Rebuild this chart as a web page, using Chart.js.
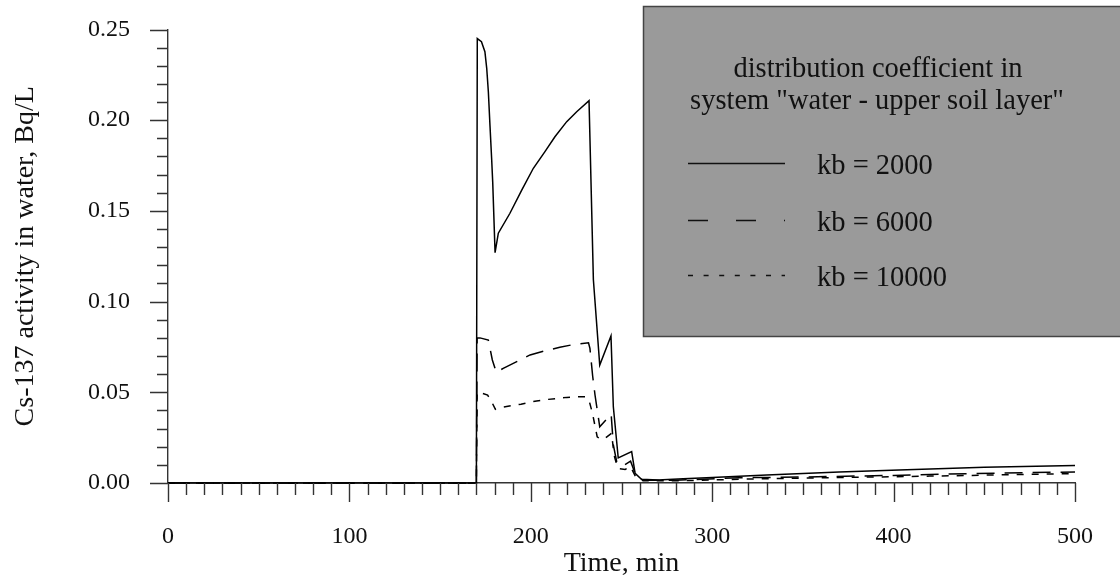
<!DOCTYPE html>
<html>
<head>
<meta charset="utf-8">
<script src="https://cdn.jsdelivr.net/npm/chart.js@4.4.0/dist/chart.umd.min.js"></script>
<style>
  html, body { margin:0; background:#fff; }
  #wrap { position:relative; width:1120px; height:586px; }
</style>
</head>
<body>
<div id="wrap"><canvas id="chart"></canvas></div>
<script>
const SERIF = "'Liberation Serif','Times New Roman',serif";

// ── Data ──────────────────────────────────────────────────────
const legendTitle = ['distribution coefficient in', 'system "water - upper soil layer"'];
const seriesLabels = ['kb = 2000', 'kb = 6000', 'kb = 10000'];

const tKb2000 = [0, 170, 170.5, 172.8, 174.7, 175.7, 176.6, 177.5, 178.4, 179, 180.3, 182.1, 188.5, 195, 201.4,
  207.8, 213.3, 219.8, 225.3, 232.1, 234.5, 238, 244.2, 245.5, 248.2, 255.6, 257.5, 261, 270, 284, 300, 330, 370, 403, 450, 500];
const vKb2000 = [0, 0, 0.245, 0.2433, 0.2378, 0.2286, 0.2157, 0.197, 0.179, 0.166, 0.127, 0.1377, 0.1487, 0.1615, 0.1735,
  0.1827, 0.1909, 0.1992, 0.2047, 0.2108, 0.112, 0.065, 0.081, 0.042, 0.0138, 0.0173, 0.0053, 0.002, 0.0017, 0.0024, 0.003, 0.0044, 0.0061, 0.0072, 0.0087, 0.0097];

const tKb6000 = [0, 170, 170.4, 172, 176.6, 178.8, 181, 184.8, 194, 199.6, 207.8, 216, 224.4, 231.8, 232.6, 234.1, 235.4,
  238, 244.3, 245.5, 247.5, 251, 255, 258, 262, 280, 315, 350, 400, 425, 460, 500];
const vKb6000 = [0, 0, 0.08, 0.08, 0.0788, 0.0678, 0.061, 0.0632, 0.0678, 0.0706, 0.0729, 0.0748, 0.0765, 0.0773, 0.0742, 0.059, 0.0485,
  0.031, 0.0379, 0.021, 0.011, 0.0095, 0.012, 0.004, 0.0015, 0.0015, 0.0029, 0.0033, 0.0042, 0.0048, 0.0055, 0.0061];

const tKb10000 = [0, 170, 170.4, 173, 176.2, 178.4, 180.5, 184.2, 190.4, 194.6, 199.6, 203.2, 209.6, 219.8, 227, 230, 232, 234,
  236.6, 238.5, 240.9, 244.5, 246, 248, 252, 255, 258, 262, 280, 320, 370, 420, 460, 500];
const vKb10000 = [0, 0, 0.05, 0.0495, 0.0485, 0.0448, 0.0406, 0.0417, 0.0428, 0.0434, 0.0446, 0.0452, 0.0461, 0.0472, 0.0476, 0.0476, 0.046, 0.0384,
  0.0255, 0.024, 0.0246, 0.0274, 0.015, 0.008, 0.0075, 0.009, 0.003, 0.0012, 0.0012, 0.0022, 0.003, 0.0038, 0.0045, 0.0052];

const xMin = 0, xMax = 500, xMajor = 100, xMinor = 10;
const yMin = 0, yMax = 0.25, yMajor = 0.05, yMinor = 0.01;

// ── Styles ────────────────────────────────────────────────────
const DASH = { solid: [], long: [18, 10], short: [7, 8] };
const LEGEND_DASH = { solid: [], long: [20, 28], short: [5, 10.6] };
const dashKeys = ['solid', 'long', 'short'];

const pts = (ts, vs) => ts.map((t, i) => ({ x: t, y: vs[i] }));

// ── Plugins ───────────────────────────────────────────────────
const tickMarks = {
  id: 'tickMarks',
  afterDraw(chart) {
    const { ctx, chartArea: a, scales: { x, y } } = chart;
    ctx.save();
    ctx.strokeStyle = '#333';
    ctx.lineWidth = 1.4;
    ctx.beginPath();
    for (let t = xMin; t <= xMax + 1e-9; t += xMinor) {
      const px = Math.round(x.getPixelForValue(t)) + 0.5;
      const len = Math.abs(t % xMajor) < 1e-6 ? 19 : 12;
      ctx.moveTo(px, a.bottom); ctx.lineTo(px, a.bottom + len);
    }
    const n = Math.round((yMax - yMin) / yMinor);
    for (let i = 0; i <= n; i++) {
      const py = Math.round(y.getPixelForValue(yMin + i * yMinor)) + 0.5;
      const len = i % Math.round(yMajor / yMinor) === 0 ? 18 : 11;
      ctx.moveTo(a.left, py); ctx.lineTo(a.left - len, py);
    }
    ctx.stroke();
    ctx.restore();
  }
};

const boxLegend = {
  id: 'boxLegend',
  afterDraw(chart) {
    const { ctx } = chart;
    ctx.save();
    ctx.fillStyle = '#9a9a9a';
    ctx.fillRect(643, 6, 490, 330);
    ctx.strokeStyle = '#444';
    ctx.lineWidth = 1.5;
    ctx.strokeRect(643.5, 6.5, 490, 330);

    ctx.fillStyle = '#111';
    ctx.font = `28.5px ${SERIF}`;
    ctx.textAlign = 'center';
    ctx.textBaseline = 'alphabetic';
    ctx.fillText(legendTitle[0], 878, 77);
    ctx.fillText(legendTitle[1], 877, 109);

    const rowY = [163.5, 220.5, 275.5];
    ctx.textAlign = 'left';
    seriesLabels.forEach((lab, i) => {
      ctx.strokeStyle = '#111';
      ctx.lineWidth = 1.4;
      ctx.setLineDash(LEGEND_DASH[dashKeys[i]]);
      ctx.beginPath();
      ctx.moveTo(688, rowY[i]); ctx.lineTo(785, rowY[i]);
      ctx.stroke();
      ctx.setLineDash([]);
      ctx.fillText(lab, 817, rowY[i] + 10);
    });
    ctx.restore();
  }
};

const noPad = s => { s.paddingTop = 0; s.paddingBottom = 0; s.paddingLeft = 0; s.paddingRight = 0; };

// ── Chart ─────────────────────────────────────────────────────
const mkSet = (label, ts, vs, key) => ({
  label, data: pts(ts, vs),
  borderColor: '#000', backgroundColor: 'transparent',
  borderWidth: 1.5, borderDash: DASH[key],
  pointRadius: 0, tension: 0, fill: false, clip: 3,
});

new Chart(document.getElementById('chart'), {
  type: 'line',
  data: {
    datasets: [
      mkSet(seriesLabels[0], tKb2000, vKb2000, 'solid'),
      mkSet(seriesLabels[1], tKb6000, vKb6000, 'long'),
      mkSet(seriesLabels[2], tKb10000, vKb10000, 'short'),
    ]
  },
  options: {
    responsive: true, maintainAspectRatio: false, animation: false,
    layout: { padding: { top: 29.5, right: 45, left: 0, bottom: 0 } },
    plugins: { legend: { display: false }, tooltip: { enabled: false } },
    scales: {
      x: {
        type: 'linear', min: xMin, max: xMax,
        grid: { display: false, drawTicks: false },
        border: { display: true, color: '#333', width: 1.4 },
        ticks: { stepSize: xMajor, color: '#111', padding: 39, maxRotation: 0,
                 font: { family: SERIF, size: 24 } },
        title: { display: true, text: 'Time, min', color: '#111',
                 font: { family: SERIF, size: 28 }, padding: { top: 0, bottom: 6 } },
        afterFit: s => { s.height = 103; noPad(s); },
      },
      y: {
        type: 'linear', min: yMin, max: yMax,
        grid: { display: false, drawTicks: false },
        border: { display: true, color: '#333', width: 1.4 },
        ticks: { stepSize: yMajor, color: '#111', padding: 38,
                 font: { family: SERIF, size: 24 }, callback: v => v.toFixed(2) },
        title: { display: true, text: 'Cs-137 activity in water, Bq/L', color: '#111',
                 font: { family: SERIF, size: 28 }, padding: { top: 9, bottom: 0 } },
        afterFit: s => { s.width = 168; noPad(s); },
      }
    }
  },
  plugins: [tickMarks, boxLegend]
});
</script>
</body>
</html>
